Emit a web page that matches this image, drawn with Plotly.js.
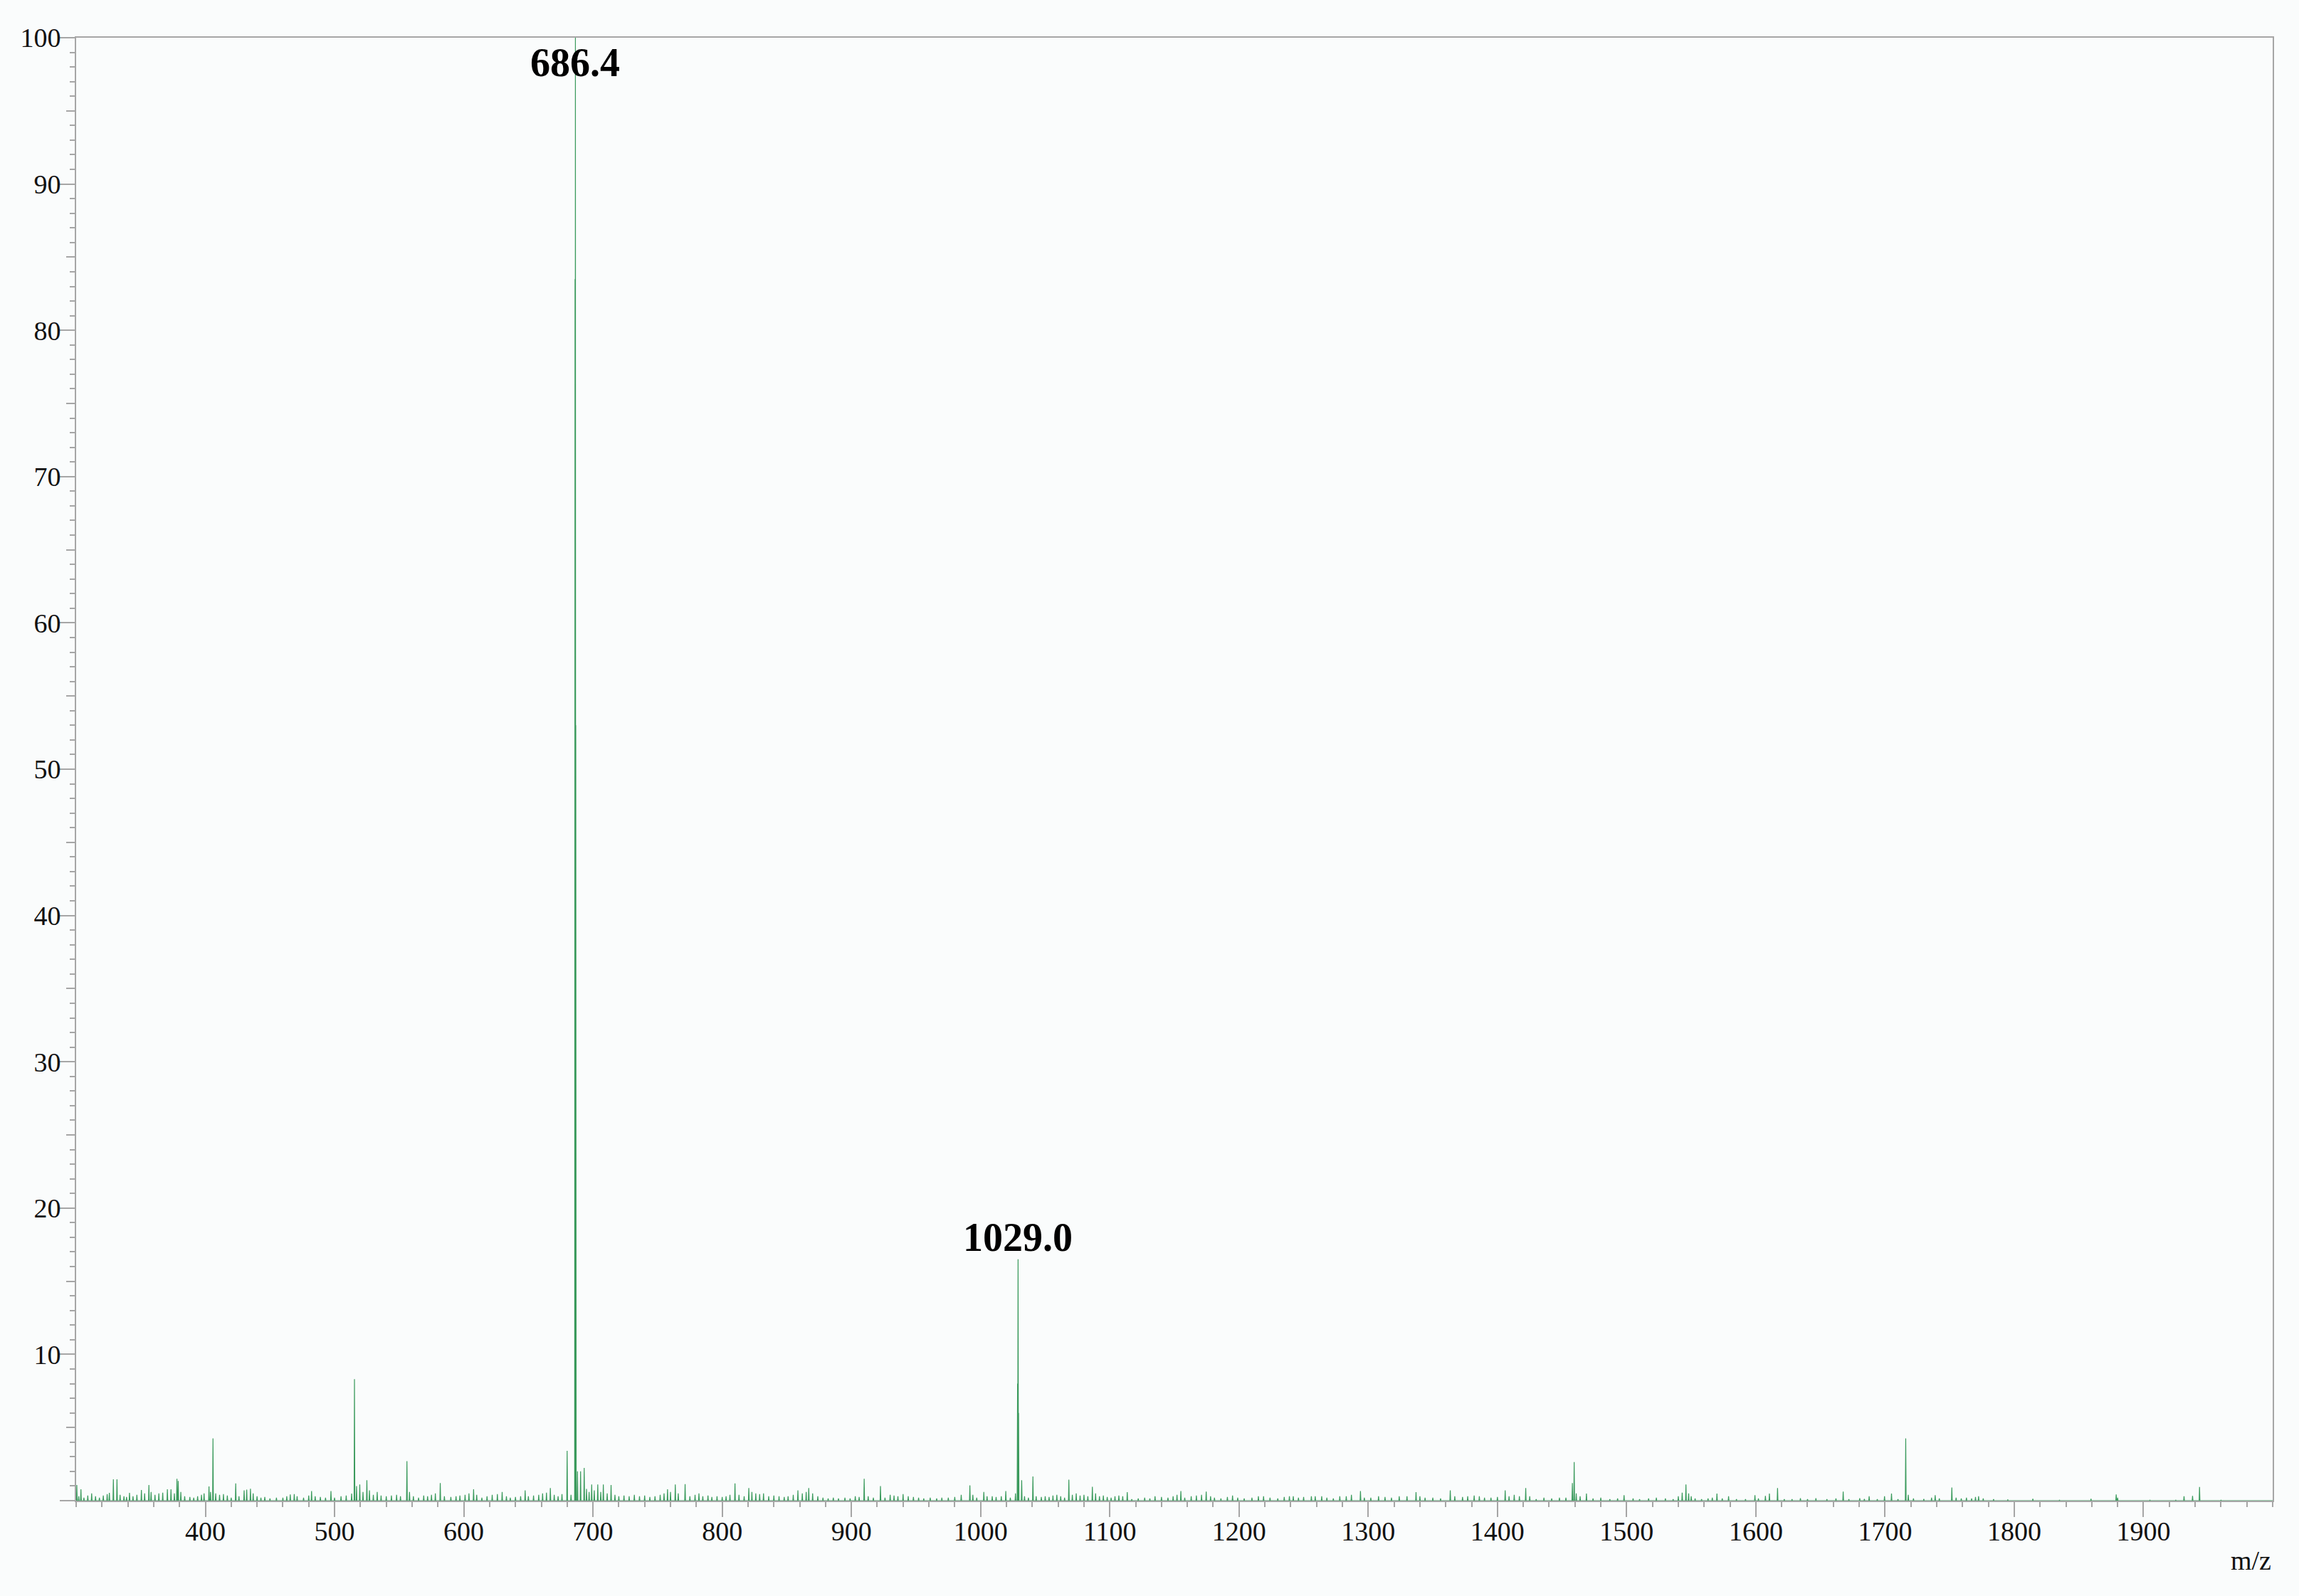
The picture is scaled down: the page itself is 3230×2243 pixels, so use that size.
<!DOCTYPE html>
<html>
<head>
<meta charset="utf-8">
<script src="https://cdn.plot.ly/plotly-3.0.1.min.js"></script>
<style>html,body{margin:0;padding:0;background:#fafcfc;}</style>
</head>
<body>
<div id="chart" style="width:3230px;height:2243px;"></div>
<script>
// Peak list: m/z and relative intensity (%)
const mz = [
300.5,302,303.7,306,309,312,315,318,321,324,325.7,328.8,331.6,334,337,339,341.3,344,347,350.5,353,356.3,358,361,364,367,370.6,373.4,376,378,379,381,384,388,391,394,397,399,
402.8,404,405.9,408,411,414,417,420,423.5,426,430,432,434.9,437,440,443,446,450,455,460,463,465.7,468.8,471,476,480,482.2,485,489,493,497.2,
500,505,509,513.2,515.4,517,519.5,522,525,527,530,533,536,540,544,548,551,556,558,561,565,569,572,575,578,581.8,585,590,594,597,
601,604,607.6,610,614,618,622,626,629.7,633,636,640,644,647.5,650,654,658,661,664,667,670,673,676,680,683,686.1,686.4,686.7,688,690.4,693.2,695,697,699,
701,703.7,706,708,711,714,717,720,724,728,732,736,740,744,748,752,755,757.7,760,763.7,766,771.3,775,779,782,785,789,792,796,
800,803,806,809.9,813,817,820.6,823,826,829,832,836,840,844,848,851,855,858.6,862,865,867,870,874,878,882,886,890,895,899,
903,906,909.9,913,917,922.5,926,930,933,936,940,944,948,952,956,961,966,970,975,980,985,991.7,994,997,
1002.5,1005,1009,1012,1016,1019.5,1023,1027,1028.6,1029,1029.4,1031.8,1034,1037,1040.5,1043,1047,1050,1053,1056,1059,1062,1065,1068.3,1071,1074,1077,1080,1083,1086.5,1089,1092,1095,1098,
1101,1104,1107,1110,1113.5,1117,1122,1127,1131,1135,1140,1145,1149,1152,1155,1158,1163,1167,1171,1174.6,1178,1181,1186,1191,1195,1199,
1204,1210,1215,1219,1224,1230,1235,1239,1242,1246,1250,1256,1259,1264,1268,1273,1278,1283,1287,1294,1297,
1302,1308,1313,1318,1324,1330,1337,1340,1344,1350,1356,1363.5,1367,1373,1377,1382,1386,1390,1395,
1400,1406,1409,1413,1417,1421.9,1425,1430,1436,1442,1448,1453,1458,1459.4,1461,1464,1468.9,1474,1480,1487,1493,1498,
1505,1510,1517,1523,1530,1536,1540,1543,1545.9,1548,1550,1553,1558,1563,1566.3,1569.9,1574,1578.9,1585,1592,1599.3,
1602,1607.4,1610.5,1616.8,1622,1628,1634.5,1640,1646.5,1655,1662,1667.6,1672,1680.4,1684,1687.7,1694,1699.6,
1705,1710,1716,1718,1722,1730,1736,1738.8,1742,1751.7,1755,1759,1763,1767,1770,1772.4,1776,1784,1795,
1814.4,1835,1859.4,1878.9,1880,1905,1925,1931.4,1938,1943.4,1960
];
const intensity = [
1.07,0.3,0.78,0.2,0.35,0.5,0.3,0.2,0.35,0.45,0.53,1.46,1.46,0.4,0.3,0.25,0.53,0.3,0.4,0.73,0.5,1.07,0.6,0.4,0.5,0.55,0.78,0.78,0.5,1.5,1.35,0.6,0.3,0.25,0.2,0.3,0.4,0.5,
0.97,0.6,4.26,0.5,0.4,0.45,0.35,0.2,1.18,0.3,0.7,0.75,0.81,0.5,0.3,0.2,0.25,0.15,0.2,0.2,0.3,0.42,0.45,0.3,0.2,0.35,0.65,0.3,0.25,0.2,0.65,
0.2,0.3,0.35,0.49,8.3,1.0,1.1,0.6,1.4,0.7,0.4,0.6,0.35,0.3,0.35,0.4,0.3,2.7,0.6,0.3,0.2,0.35,0.3,0.4,0.5,1.2,0.3,0.25,0.3,0.35,
0.4,0.5,0.78,0.4,0.2,0.3,0.4,0.45,0.6,0.3,0.2,0.25,0.3,0.7,0.3,0.35,0.4,0.5,0.55,0.86,0.4,0.3,0.45,3.4,0.4,83.5,100,53,2.0,2.0,2.24,0.8,0.6,1.1,
0.7,1.1,0.6,1.1,0.5,1.07,0.4,0.3,0.35,0.3,0.4,0.3,0.35,0.25,0.3,0.4,0.5,0.78,0.6,1.1,0.5,1.13,0.3,0.4,0.5,0.3,0.35,0.25,0.3,
0.25,0.3,0.4,1.18,0.4,0.3,0.86,0.6,0.5,0.45,0.5,0.3,0.35,0.3,0.25,0.3,0.4,0.7,0.5,0.6,0.86,0.5,0.3,0.2,0.15,0.2,0.15,0.2,0.15,
0.3,0.25,1.5,0.3,0.2,1.0,0.2,0.4,0.35,0.3,0.45,0.3,0.25,0.2,0.15,0.2,0.15,0.2,0.2,0.25,0.4,1.05,0.4,0.2,
0.6,0.3,0.3,0.25,0.3,0.65,0.2,0.5,8.0,16.5,6.0,1.4,0.3,0.2,1.65,0.3,0.25,0.3,0.25,0.35,0.4,0.3,0.2,1.43,0.4,0.5,0.35,0.4,0.3,0.95,0.5,0.3,0.35,0.25,
0.2,0.3,0.35,0.3,0.58,0.1,0.15,0.2,0.15,0.3,0.25,0.2,0.3,0.4,0.66,0.2,0.3,0.35,0.4,0.62,0.3,0.2,0.15,0.25,0.35,0.2,
0.15,0.2,0.3,0.3,0.2,0.15,0.25,0.3,0.3,0.2,0.25,0.3,0.3,0.3,0.2,0.15,0.3,0.3,0.4,0.66,0.2,
0.2,0.3,0.25,0.2,0.3,0.3,0.58,0.3,0.2,0.2,0.15,0.7,0.3,0.25,0.3,0.35,0.3,0.2,0.2,
0.25,0.7,0.3,0.4,0.3,0.86,0.3,0.1,0.2,0.15,0.2,0.2,1.2,2.64,0.5,0.3,0.49,0.15,0.2,0.1,0.15,0.37,
0.15,0.1,0.15,0.2,0.15,0.1,0.3,0.55,1.1,0.5,0.3,0.15,0.1,0.15,0.2,0.49,0.15,0.3,0.1,0.1,0.37,
0.15,0.32,0.49,0.86,0.1,0.1,0.16,0.1,0.16,0.1,0.15,0.62,0.1,0.16,0.12,0.3,0.1,0.3,
0.49,0.1,4.26,0.4,0.15,0.12,0.2,0.37,0.15,0.9,0.2,0.15,0.2,0.15,0.25,0.3,0.15,0.1,0.08,
0.13,0.05,0.13,0.42,0.2,0.05,0.05,0.3,0.32,0.94,0.03
];
const xRange = [300, 2000];
const yRange = [0, 100];
const xTickVals = [400,500,600,700,800,900,1000,1100,1200,1300,1400,1500,1600,1700,1800,1900];
const yTickVals = [0,10,20,30,40,50,60,70,80,90,100];
const yTickText = ['','10','20','30','40','50','60','70','80','90','100'];
const yMidTicks = [5,15,25,35,45,55,65,75,85,95];
const peakLabels = [
  {x: 686.4, y: 100, text: '686.4'},
  {x: 1029.0, y: 16.5, text: '1029.0'}
];
const xTitle = 'm/z';

// Build a stick/profile trace from the peak list: baseline -> apex -> baseline
const half = 0.3;
const px = [xRange[0]], py = [0];
for (let i = 0; i < mz.length; i++) {
  px.push(mz[i] - half, mz[i], mz[i] + half);
  py.push(0, intensity[i], 0);
}
px.push(xRange[1]); py.push(0);

const serif = 'Liberation Serif, Times New Roman, serif';
const gray = '#a6a6a6';

const traces = [
  {x: px, y: py, type: 'scatter', mode: 'lines', line: {color: '#3a9a5c', width: 1.2}, hoverinfo: 'skip', showlegend: false},
  {x: [xRange[0]], y: [0], type: 'scatter', mode: 'lines', yaxis: 'y2', line: {width: 0}, hoverinfo: 'skip', showlegend: false}
];

const annotations = peakLabels.map((p, i) => ({
  x: p.x, y: p.y, xref: 'x', yref: 'y', text: '<b>' + p.text + '</b>', showarrow: false,
  xanchor: 'center', yanchor: i === 0 ? 'top' : 'bottom', yshift: i === 0 ? -2 : -2,
  font: {family: serif, size: 56, color: '#000'}
}));
annotations.push({
  xref: 'paper', yref: 'paper', x: 1, y: -0.052, xanchor: 'right', yanchor: 'bottom',
  text: xTitle, showarrow: false, font: {family: serif, size: 38, color: '#111'}
});

const layout = {
  width: 3230, height: 2243,
  margin: {l: 107, r: 37, t: 53, b: 134, pad: 0},
  paper_bgcolor: '#fafcfc', plot_bgcolor: '#fafcfc',
  showlegend: false,
  font: {family: serif, size: 38, color: '#111'},
  xaxis: {
    range: xRange, tickmode: 'array', tickvals: xTickVals,
    showline: true, linecolor: gray, linewidth: 2, mirror: true,
    ticks: 'outside', ticklen: 21, tickwidth: 2, tickcolor: gray,
    ticklabelstandoff: -13,
    showgrid: false, zeroline: false,
    tickfont: {family: serif, size: 38, color: '#111'},
    minor: {tick0: 0, dtick: 20, ticks: 'outside', ticklen: 7, tickwidth: 2, tickcolor: gray, showgrid: false}
  },
  yaxis: {
    range: yRange, tickmode: 'array', tickvals: yTickVals, ticktext: yTickText,
    showline: true, linecolor: gray, linewidth: 2, mirror: true,
    ticks: 'outside', ticklen: 21, tickwidth: 2, tickcolor: gray,
    ticklabelstandoff: -9,
    showgrid: false, zeroline: false,
    tickfont: {family: serif, size: 38, color: '#111'},
    minor: {tick0: 0, dtick: 1, ticks: 'outside', ticklen: 7, tickwidth: 2, tickcolor: gray, showgrid: false}
  },
  yaxis2: {
    range: yRange, overlaying: 'y', side: 'left', tickmode: 'array', tickvals: yMidTicks,
    ticks: 'outside', ticklen: 13, tickwidth: 2, tickcolor: gray,
    showticklabels: false, showline: false, showgrid: false, zeroline: false
  },
  annotations: annotations
};

Plotly.newPlot('chart', traces, layout, {staticPlot: true, displayModeBar: false});
</script>
</body>
</html>
